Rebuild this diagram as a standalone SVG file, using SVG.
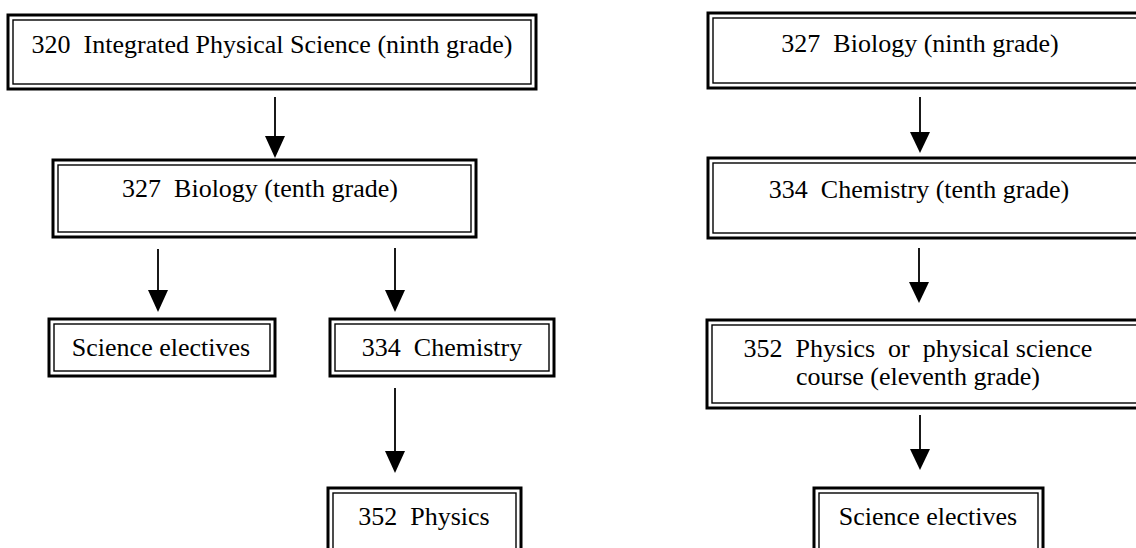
<svg xmlns="http://www.w3.org/2000/svg" width="1136" height="548" viewBox="0 0 1136 548">
<defs>
<style>
.o{fill:none;stroke:#000;stroke-width:3}
.i{fill:none;stroke:#000;stroke-width:1.4}
.t{font-family:"Liberation Serif","Times New Roman",serif;font-size:26px;fill:#000;text-anchor:middle;white-space:pre}
.c{stroke:#000;stroke-width:1.8;fill:none}
.h{fill:#000}
</style>
</defs>
<rect width="1136" height="548" fill="#fff"/>
<g id="n320">
<rect class="o" x="8" y="15" width="528" height="74"/>
<rect class="i" x="13" y="20" width="518" height="64"/>
<text class="t" x="272" y="53" xml:space="preserve">320  Integrated Physical Science (ninth grade)</text>
</g>
<g id="n327t">
<rect class="o" x="53" y="160" width="423" height="77"/>
<rect class="i" x="58" y="165" width="413" height="67"/>
<text class="t" x="260" y="197" xml:space="preserve">327  Biology (tenth grade)</text>
</g>
<g id="nSciL">
<rect class="o" x="49" y="319" width="226" height="57"/>
<rect class="i" x="54" y="324" width="216" height="47"/>
<text class="t" x="161" y="356">Science electives</text>
</g>
<g id="n334">
<rect class="o" x="330" y="319" width="224" height="57"/>
<rect class="i" x="335" y="324" width="214" height="47"/>
<text class="t" x="442" y="356" xml:space="preserve">334  Chemistry</text>
</g>
<g id="n352">
<rect class="o" x="328" y="488" width="193" height="70"/>
<rect class="i" x="333" y="493" width="183" height="60"/>
<text class="t" x="424" y="525" xml:space="preserve">352  Physics</text>
</g>
<g id="n327n">
<rect class="o" x="708" y="13" width="440" height="75"/>
<rect class="i" x="713" y="18" width="440" height="65"/>
<text class="t" x="920" y="52" xml:space="preserve">327  Biology (ninth grade)</text>
</g>
<g id="n334t">
<rect class="o" x="708" y="158" width="440" height="80"/>
<rect class="i" x="713" y="163" width="440" height="70"/>
<text class="t" x="919" y="198" xml:space="preserve">334  Chemistry (tenth grade)</text>
</g>
<g id="n352p">
<rect class="o" x="707" y="320" width="440" height="88"/>
<rect class="i" x="712" y="325" width="440" height="78"/>
<text class="t" x="918" y="357" xml:space="preserve">352  Physics  or  physical science</text>
<text class="t" x="918" y="385">course (eleventh grade)</text>
</g>
<g id="nSciR">
<rect class="o" x="814" y="488" width="229" height="70"/>
<rect class="i" x="819" y="493" width="219" height="60"/>
<text class="t" x="928" y="525">Science electives</text>
</g>
<g id="connectors">
<line class="c" x1="275" y1="97" x2="275" y2="137"/>
<polygon class="h" points="265,136 285,136 275,158"/>
<line class="c" x1="158" y1="249" x2="158" y2="291"/>
<polygon class="h" points="148,290 168,290 158,312"/>
<line class="c" x1="395" y1="248" x2="395" y2="291"/>
<polygon class="h" points="385,290 405,290 395,312"/>
<line class="c" x1="395" y1="388" x2="395" y2="452"/>
<polygon class="h" points="385,451 405,451 395,473"/>
<line class="c" x1="920" y1="97" x2="920" y2="133"/>
<polygon class="h" points="910,132 930,132 920,153"/>
<line class="c" x1="919" y1="248" x2="919" y2="283"/>
<polygon class="h" points="909,282 929,282 919,303"/>
<line class="c" x1="920" y1="415" x2="920" y2="450"/>
<polygon class="h" points="910,449 930,449 920,470"/>
</g>
</svg>
